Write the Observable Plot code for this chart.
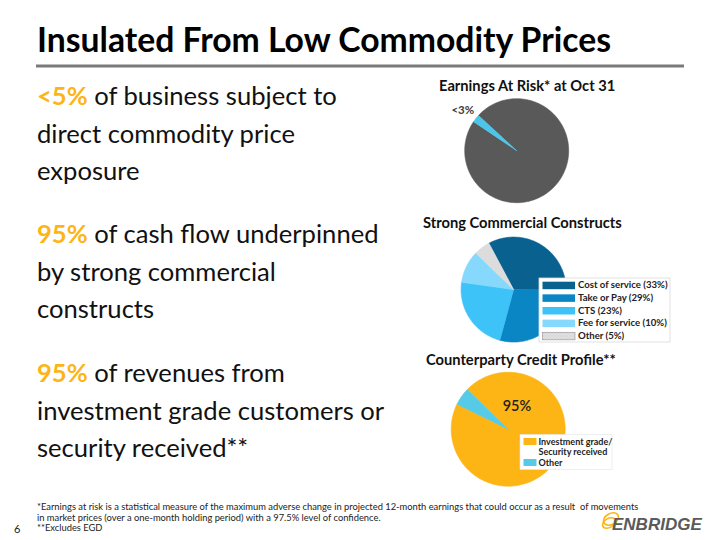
<!DOCTYPE html>
<html>
<head>
<meta charset="utf-8">
<script src="https://cdn.jsdelivr.net/npm/d3@7"></script>
<script src="https://cdn.jsdelivr.net/npm/@observablehq/plot@0.6"></script>
<style>
  html, body { margin: 0; padding: 0; background: #fff; }
  #slide { position: relative; width: 720px; height: 540px; overflow: hidden; background: #fff; font-family: Lato, "Open Sans", sans-serif; }
  .pie { position: absolute; }
  #overlay { position: absolute; left: 0; top: 0; }
</style>
</head>
<body>
<div id="slide"></div>
<script>
// ---------- data ----------
const slideTitle = "Insulated From Low Commodity Prices";

const bullet1Highlight = "<5%";
const bullet1Lines = [" of business subject to", "direct commodity price", "exposure"];
const bullet2Highlight = "95%";
const bullet2Lines = [" of cash flow underpinned", "by strong commercial", "constructs"];
const bullet3Highlight = "95%";
const bullet3Lines = [" of revenues from", "investment grade customers or", "security received**"];

// Pie 1: Earnings at risk
const pie1Title = "Earnings At Risk* at Oct 31";
const pie1Categories = ["Not at risk", "Earnings at risk"];
const pie1Values = [97.6, 2.4];
const pie1Label = "<3%";

// Pie 2: commercial constructs
const pie2Title = "Strong Commercial Constructs";
const pie2Categories = ["Cost of service", "Take or Pay", "CTS", "Fee for service", "Other"];
const pie2Values = [33, 29, 23, 10, 5];

// Pie 3: counterparty credit
const pie3Title = "Counterparty Credit Profile**";
const pie3Categories = ["Investment grade/ Security received", "Other"];
const pie3Values = [95, 5];
const pie3Label = "95%";

const footnotes = [
  "*Earnings at risk is a statistical measure of the maximum adverse change in projected 12-month earnings that could occur as a result  of movements",
  "in market prices (over a one-month holding period) with a 97.5% level of confidence.",
  "**Excludes EGD"
];
const pageNumber = "6";

// ---------- styling ----------
const orange = "#FDB515";
const pie1Colors = ["#595959", "#4BC6E8"];
const pie2Colors = ["#08618F", "#0A86C4", "#3EC3F8", "#86D9FC", "url(#hatch)"];
const pie3Colors = ["#FDB515", "#56CBE8"];

const slide = document.getElementById("slide");
const NS = "http://www.w3.org/2000/svg";

// pie polygons computed from values
function pieRows(categories, values, startDeg) {
  const data = categories.map((c, i) => ({c, v: values[i]}));
  const arcs = d3.pie().sort(null).value(d => d.v).startAngle(startDeg * Math.PI / 180)(data);
  const rows = [];
  arcs.forEach(a => {
    const k = a.data.c;
    rows.push({k, x: 0, y: 0});
    const n = Math.max(2, Math.ceil((a.endAngle - a.startAngle) / (Math.PI / 180)));
    for (let i = 0; i <= n; i++) {
      const t = a.startAngle + (a.endAngle - a.startAngle) * i / n;
      rows.push({k, x: Math.sin(t), y: Math.cos(t)});
    }
    rows.push({k, x: 0, y: 0});
  });
  return {rows, arcs};
}

function placePie({categories, values, colors, startDeg, cx, cy, r, pad, extraMarks}) {
  const {rows, arcs} = pieRows(categories, values, startDeg);
  const size = 2 * r * pad;
  const plot = Plot.plot({
    width: size, height: size, margin: 0,
    x: {domain: [-pad, pad], axis: null},
    y: {domain: [-pad, pad], axis: null},
    color: {domain: categories, range: colors},
    marks: [
      Plot.line(rows, {x: "x", y: "y", z: "k", fill: "k", stroke: "k", strokeWidth: 0.6, curve: "linear"}),
      ...(extraMarks ? extraMarks(arcs) : [])
    ]
  });
  const wrap = document.createElement("div");
  wrap.className = "pie";
  wrap.style.left = (cx - r * pad) + "px";
  wrap.style.top = (cy - r * pad) + "px";
  wrap.appendChild(plot);
  slide.appendChild(wrap);
}

// Pie 1
placePie({
  categories: pie1Categories, values: pie1Values, colors: pie1Colors,
  startDeg: -47.4, cx: 516, cy: 150, r: 52, pad: 1.35,
  extraMarks: arcs => {
    const a = arcs[1];
    const mid = (a.startAngle + a.endAngle) / 2 - 0.03;
    return [Plot.text([pie1Label], {x: () => Math.sin(mid) * 1.29, y: () => Math.cos(mid) * 1.29,
      text: d => d, fontSize: 11.5, fontWeight: "bold", fill: "#3a3a3a", fontFamily: "Lato"})];
  }
});

// Pie 2
placePie({
  categories: pie2Categories, values: pie2Values, colors: pie2Colors,
  startDeg: -28, cx: 513, cy: 289.5, r: 52.5, pad: 1.03
});

// Pie 3
placePie({
  categories: pie3Categories, values: pie3Values, colors: pie3Colors,
  startDeg: -46, cx: 508, cy: 429, r: 57, pad: 1.03,
  extraMarks: arcs => {
    const ang = 21 * Math.PI / 180;
    return [Plot.text([pie3Label], {x: () => Math.sin(ang) * 0.43, y: () => Math.cos(ang) * 0.43,
      text: d => d, fontSize: 14.5, fill: "#222", fontFamily: "Lato", fontWeight: 600})];
  }
});

// ---------- overlay text / legends ----------
const svg = document.createElementNS(NS, "svg");
svg.setAttribute("id", "overlay");
svg.setAttribute("width", 720);
svg.setAttribute("height", 540);
slide.appendChild(svg);

const defs = document.createElementNS(NS, "defs");
defs.innerHTML = `<pattern id="hatch" patternUnits="userSpaceOnUse" width="3" height="3">
  <rect width="3" height="3" fill="#E4E4E4"/>
  <path d="M0,3 L3,0 M0,0 L3,3" stroke="#CFCFCF" stroke-width="0.6"/>
</pattern>`;
svg.appendChild(defs);

function el(tag, attrs, text) {
  const e = document.createElementNS(NS, tag);
  for (const k in attrs) e.setAttribute(k, attrs[k]);
  if (text != null) e.textContent = text;
  svg.appendChild(e);
  return e;
}

// title and rule
el("text", {x: 37, y: 52, "font-family": "Lato", "font-weight": "bold", "font-size": 33.7, fill: "#000"}, slideTitle);
el("line", {x1: 36, x2: 684, y1: 66, y2: 66, stroke: "#7A7A7A", "stroke-width": 3});

// bullets
function bullet(highlight, lines, y0) {
  lines.forEach((ln, i) => {
    const t = el("text", {x: 37, y: y0 + i * 37.7, "font-family": "Lato", "font-size": 25.6, fill: "#111"});
    if (i === 0) {
      const s = document.createElementNS(NS, "tspan");
      s.setAttribute("fill", orange); s.setAttribute("font-weight", "bold");
      s.textContent = highlight; t.appendChild(s);
      const s2 = document.createElementNS(NS, "tspan");
      s2.textContent = ln; t.appendChild(s2);
      t.setAttribute("style", "white-space:pre");
    } else t.textContent = ln;
  });
}
bullet(bullet1Highlight, bullet1Lines, 105);
bullet(bullet2Highlight, bullet2Lines, 243);
bullet(bullet3Highlight, bullet3Lines, 382);

// pie titles
const titleStyle = {"font-family": "Lato", "font-weight": "bold", "font-size": 14.7, fill: "#111"};
el("text", {...titleStyle, x: 439, y: 91}, pie1Title);
el("text", {...titleStyle, x: 423, y: 228}, pie2Title);
el("text", {...titleStyle, x: 426, y: 365}, pie3Title);

// legend 2
el("rect", {x: 539, y: 278, width: 131, height: 64, fill: "#fff", stroke: "#DADADA", "stroke-width": 0.8});
pie2Categories.forEach((c, i) => {
  const y = 281.7 + i * 12.65;
  el("rect", {x: 542.5, y, width: 32.5, height: 7.5, fill: pie2Colors[i],
    stroke: i === 4 ? "#9a9a9a" : "none", "stroke-width": 0.7});
  el("text", {x: 578, y: y + 6.7, "font-family": "Lato", "font-weight": "bold", "font-size": 9.6, fill: "#222"},
    `${c} (${pie2Values[i]}%)`);
});

// legend 3
el("rect", {x: 520, y: 434.5, width: 92, height: 35, fill: "#fff", stroke: "#E4E4E4", "stroke-width": 0.6});
const pie3LegendLines = [pie3Categories[0].split(" ").slice(0, 2).join(" "), pie3Categories[0].split(" ").slice(2).join(" ")];
el("rect", {x: 523.5, y: 438, width: 13, height: 7, fill: pie3Colors[0]});
el("text", {x: 538.5, y: 444.5, "font-family": "Lato", "font-weight": "bold", "font-size": 9, fill: "#222"}, pie3LegendLines[0]);
el("text", {x: 538.5, y: 455, "font-family": "Lato", "font-weight": "bold", "font-size": 9, fill: "#222"}, pie3LegendLines[1]);
el("rect", {x: 523.5, y: 459, width: 13, height: 7, fill: pie3Colors[1]});
el("text", {x: 538.5, y: 465.7, "font-family": "Lato", "font-weight": "bold", "font-size": 9, fill: "#222"}, pie3Categories[1]);

// footnotes
footnotes.forEach((f, i) => {
  const t = el("text", {x: 37, y: 510 + i * 10.5, "font-family": "Lato", "font-size": 9.35, fill: "#222"}, f);
  t.setAttribute("style", "white-space:pre");
});
el("text", {x: 14, y: 533, "font-family": "Lato", "font-size": 11, fill: "#222"}, pageNumber);

// logo
el("ellipse", {cx: 611, cy: 519, rx: 8, ry: 5.5, fill: "none", stroke: orange, "stroke-width": 1.6, transform: "rotate(-30 611 519)"});
el("ellipse", {cx: 609, cy: 523, rx: 7, ry: 4.5, fill: "none", stroke: orange, "stroke-width": 1.6, transform: "rotate(-30 609 523)"});
el("text", {x: 612, y: 530, "font-family": "Liberation Sans", "font-weight": "bold", "font-style": "italic", "font-size": 17, fill: "#5A5A5A"}, "ENBRIDGE");
</script>
</body>
</html>
